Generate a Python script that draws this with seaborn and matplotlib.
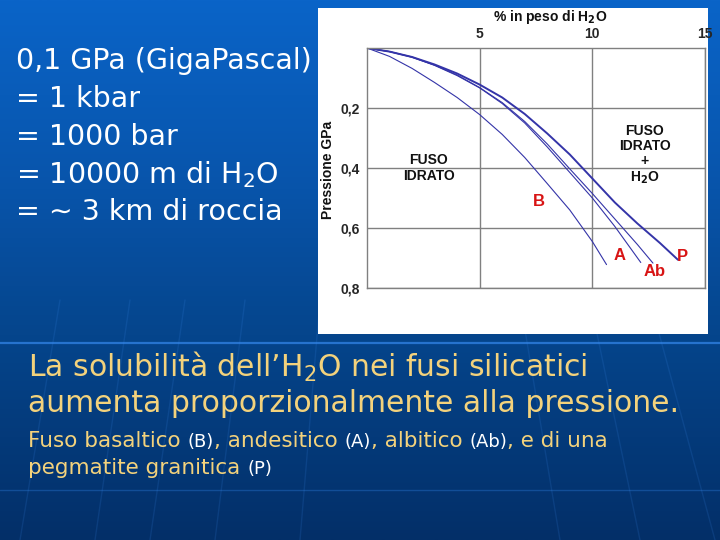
import matplotlib
matplotlib.use("Agg")
import numpy as np
import pandas as pd
import matplotlib.pyplot as plt
import seaborn as sns
from matplotlib.colors import LinearSegmentedColormap
from matplotlib.patches import Rectangle

# water solubility curves (wt% H2O vs pressure in GPa)
water_B = [0, 1, 2, 3, 4, 5, 6, 7, 8, 9, 10, 10.63]
press_B = [0, 0.028, 0.068, 0.115, 0.165, 0.222, 0.288, 0.365, 0.452, 0.54, 0.645, 0.722]

water_A = [0, 1, 2, 3, 4, 5, 6, 7, 8, 9, 10, 11, 12.15]
press_A = [0, 0.012, 0.031, 0.058, 0.092, 0.133, 0.185, 0.25, 0.33, 0.415, 0.50, 0.595, 0.715]

water_Ab = [0, 1, 2, 3, 4, 5, 6, 7, 8, 9, 10, 11, 12, 12.69]
press_Ab = [0, 0.012, 0.03, 0.057, 0.09, 0.132, 0.182, 0.245, 0.32, 0.403, 0.485, 0.57, 0.655, 0.717]

water_P = [0, 1, 2, 3, 4, 5, 6, 7, 8, 9, 10, 11, 12, 13, 13.8]
press_P = [0, 0.012, 0.03, 0.055, 0.085, 0.122, 0.165, 0.22, 0.285, 0.355, 0.435, 0.515, 0.585, 0.65, 0.706]

x_ticks = [5, 10, 15]
y_ticks = [0.2, 0.4, 0.6, 0.8]
y_tick_labels = ["0,2", "0,4", "0,6", "0,8"]

left_lines = ["0,1 GPa (GigaPascal)", "= 1 kbar", "= 1000 bar",
              "= 10000 m di H$_2$O", "= \u223c 3 km di roccia"]

sns.set_style("white")
plt.rcParams['font.family'] = ['Liberation Sans', 'DejaVu Sans']
plt.rcParams['mathtext.fontset'] = 'dejavusans'

W, H = 720, 540
fig = plt.figure(figsize=(7.2, 5.4), dpi=100)

# slide background
bg = fig.add_axes([0, 0, 1, 1])
bg.set_xlim(0, W)
bg.set_ylim(H, 0)
bg.axis("off")
cmap = LinearSegmentedColormap.from_list(
    "slide", [(0, "#0a64c8"), (0.35, "#0854aa"), (0.62, "#05458c"), (1, "#032f68")])
grad = np.linspace(0, 1, 256).reshape(-1, 1)
bg.imshow(grad, cmap=cmap, extent=[0, W, H, 0], aspect="auto")
bg.axhline(343, color="#2f7fe0", lw=1.6, alpha=0.8)
bg.axhline(490, color="#2f7fe0", lw=1.0, alpha=0.35)
for x0, x1 in [(20, 60), (95, 130), (150, 185), (215, 245), (300, 320), (560, 520), (640, 590), (715, 650)]:
    bg.plot([x0, x1], [540, 300], color="#3d8cf0", lw=1.0, alpha=0.15)
bg.set_xlim(0, W)
bg.set_ylim(H, 0)
bg.add_patch(Rectangle((318, 8), 390, 326, facecolor="white", edgecolor="none", zorder=5))

# chart
ax = fig.add_axes([367 / W, 1 - 288 / H, 338 / W, 240 / H])
ax.set_zorder(10)
curves = [("B", water_B, press_B, 0.8), ("A", water_A, press_A, 0.8),
          ("Ab", water_Ab, press_Ab, 0.8), ("P", water_P, press_P, 1.4)]
for name, wx, py, lw in curves:
    df = pd.DataFrame({"water": wx, "pressure": py})
    sns.lineplot(data=df, x="water", y="pressure", ax=ax, color="#3434a8",
                 lw=lw, sort=False, estimator=None)

ax.set_xlim(0, 15)
ax.set_ylim(0.8, 0)
ax.xaxis.tick_top()
ax.set_xticks(x_ticks)
ax.set_xticklabels([str(t) for t in x_ticks], fontsize=10)
ax.set_yticks(y_ticks)
ax.set_yticklabels(y_tick_labels, fontsize=10, fontweight="bold")
for lab in ax.get_xticklabels():
    lab.set_fontweight("bold")
ax.tick_params(length=0, pad=5)
ax.grid(True, color="#808080", lw=1)
for s in ax.spines.values():
    s.set_color("#808080")
    s.set_linewidth(1)
ax.set_xlabel("")
ax.set_ylabel("")

ax.text(2.74, 0.40, "FUSO\nIDRATO", ha="center", va="center", fontsize=10,
        fontweight="bold", color="#111111", linespacing=1.1)
ax.text(12.32, 0.356, "FUSO\nIDRATO\n+\nH$_\\mathbf{2}$O", ha="center", va="center",
        fontsize=10, fontweight="bold", color="#111111", linespacing=1.1)
for lab, lx, ly in [("B", 7.62, 0.51), ("A", 11.2, 0.693), ("Ab", 12.77, 0.746), ("P", 14.0, 0.696)]:
    ax.text(lx, ly, lab, ha="center", va="center", fontsize=12, fontweight="bold", color="#d81414")

fig.text(550 / W, 1 - 17 / H, "% in peso di H$_\\mathbf{2}$O", ha="center", va="center",
         fontsize=10, fontweight="bold", color="#111111")
fig.text(328 / W, 1 - 170 / H, "Pressione GPa", ha="center", va="center", rotation=90,
         fontsize=10, fontweight="bold", color="#111111")

# slide text
for i, line in enumerate(left_lines):
    fig.text(16 / W, 1 - (61 + 37.8 * i) / H, line, ha="left", va="center",
             fontsize=20.5, color="white", family="DejaVu Sans")

yellow = "#f3d27c"
fig.text(28 / W, 1 - 367 / H, "La solubilit\u00e0 dell\u2019H$_2$O nei fusi silicatici",
         ha="left", va="center", fontsize=21.5, color=yellow, family="DejaVu Sans")
fig.text(28 / W, 1 - 404 / H, "aumenta proporzionalmente alla pressione.",
         ha="left", va="center", fontsize=21.5, color=yellow, family="DejaVu Sans")


def draw_pieces(x_px, y_px, pieces):
    renderer = fig.canvas.get_renderer()
    x = x_px
    for txt, col, size in pieces:
        t = fig.text(x / W, 1 - y_px / H, txt, ha="left", va="baseline",
                     fontsize=size, color=col, family="DejaVu Sans")
        x += t.get_window_extent(renderer).width


draw_pieces(28, 447, [("Fuso basaltico ", yellow, 15.5), ("(B)", "white", 13),
                      (", andesitico ", yellow, 15.5), ("(A)", "white", 13),
                      (", albitico ", yellow, 15.5), ("(Ab)", "white", 13),
                      (", e di una", yellow, 15.5)])
draw_pieces(28, 474, [("pegmatite granitica ", yellow, 15.5), ("(P)", "white", 13)])

fig.savefig("out.png", dpi=100)
